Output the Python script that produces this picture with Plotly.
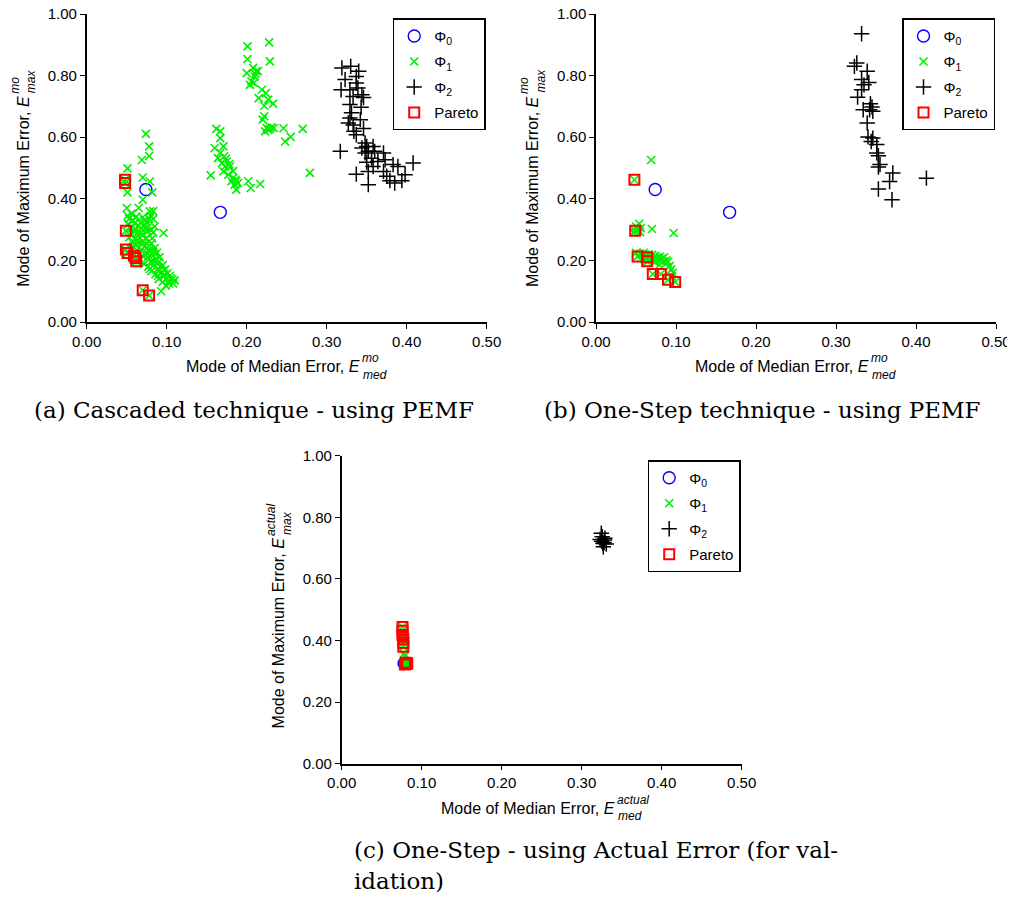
import plotly.graph_objects as go

# page is 1015x900 with an 8px body margin
PAGE_W, PAGE_H = 1015, 900
OFF = 8.0
W, H = PAGE_W - OFF, PAGE_H - 2 * OFF

# ---------------- data ----------------
# Panel (a) Cascaded technique - PEMF
a_phi0 = [(0.074, 0.430), (0.167, 0.356)]
a_phi1 = [
    (0.074, 0.611), (0.078, 0.570), (0.078, 0.539), (0.069, 0.526), (0.051, 0.499), (0.070, 0.469),
    (0.079, 0.456), (0.048, 0.462), (0.048, 0.451), (0.051, 0.421), (0.082, 0.421), (0.070, 0.397),
    (0.050, 0.370), (0.065, 0.370), (0.079, 0.359), (0.083, 0.360), (0.051, 0.345), (0.053, 0.335),
    (0.058, 0.330), (0.060, 0.320), (0.052, 0.318), (0.055, 0.305), (0.049, 0.296), (0.062, 0.300),
    (0.070, 0.340), (0.072, 0.330), (0.075, 0.325), (0.078, 0.335), (0.080, 0.345), (0.083, 0.335),
    (0.073, 0.315), (0.068, 0.305), (0.064, 0.290), (0.057, 0.285), (0.053, 0.275), (0.060, 0.270),
    (0.066, 0.275), (0.071, 0.285), (0.076, 0.295), (0.080, 0.300), (0.085, 0.310), (0.096, 0.289),
    (0.074, 0.270), (0.078, 0.262), (0.069, 0.258), (0.062, 0.250), (0.058, 0.245), (0.055, 0.238),
    (0.049, 0.235), (0.051, 0.224), (0.065, 0.240), (0.072, 0.245), (0.081, 0.255), (0.085, 0.240),
    (0.079, 0.232), (0.074, 0.225), (0.070, 0.215), (0.059, 0.215), (0.061, 0.208), (0.062, 0.197),
    (0.066, 0.200), (0.076, 0.210), (0.082, 0.218), (0.088, 0.225), (0.086, 0.205), (0.080, 0.195),
    (0.072, 0.188), (0.077, 0.180), (0.084, 0.185), (0.090, 0.195), (0.093, 0.180), (0.088, 0.170),
    (0.081, 0.165), (0.086, 0.155), (0.093, 0.160), (0.098, 0.170), (0.101, 0.158), (0.096, 0.148),
    (0.090, 0.140), (0.095, 0.130), (0.100, 0.140), (0.104, 0.150), (0.107, 0.138), (0.103, 0.125),
    (0.108, 0.125), (0.110, 0.135), (0.099, 0.118), (0.093, 0.100), (0.070, 0.103), (0.078, 0.086),
    (0.056, 0.352), (0.062, 0.342), (0.067, 0.322), (0.059, 0.298), (0.075, 0.305), (0.083, 0.290),
    (0.070, 0.262), (0.063, 0.265), (0.078, 0.248), (0.068, 0.232), (0.083, 0.228), (0.076, 0.222),
    (0.091, 0.210), (0.085, 0.196), (0.079, 0.172), (0.091, 0.168), (0.097, 0.155), (0.105, 0.142),
    (0.102, 0.132), (0.089, 0.150), (0.095, 0.185), (0.082, 0.272), (0.067, 0.288), (0.057, 0.258),
    (0.201, 0.895), (0.228, 0.908), (0.229, 0.846), (0.201, 0.854), (0.208, 0.825), (0.212, 0.814),
    (0.200, 0.808), (0.210, 0.797), (0.206, 0.781), (0.204, 0.770), (0.209, 0.776), (0.214, 0.815),
    (0.211, 0.805), (0.219, 0.754), (0.224, 0.743), (0.215, 0.727), (0.227, 0.722), (0.233, 0.709),
    (0.222, 0.702), (0.222, 0.668), (0.220, 0.657), (0.225, 0.630), (0.229, 0.627), (0.234, 0.630),
    (0.223, 0.619), (0.227, 0.624), (0.231, 0.632), (0.246, 0.629), (0.270, 0.627), (0.255, 0.601),
    (0.248, 0.586), (0.279, 0.484), (0.162, 0.627), (0.167, 0.619), (0.167, 0.597), (0.160, 0.565),
    (0.171, 0.570), (0.167, 0.549), (0.172, 0.538), (0.164, 0.532), (0.175, 0.521), (0.169, 0.516),
    (0.173, 0.505), (0.179, 0.505), (0.171, 0.489), (0.177, 0.478), (0.155, 0.476), (0.183, 0.468),
    (0.181, 0.457), (0.187, 0.457), (0.185, 0.446), (0.189, 0.451), (0.187, 0.430), (0.202, 0.457),
    (0.205, 0.435), (0.217, 0.448), (0.174, 0.530), (0.178, 0.512), (0.183, 0.490), (0.186, 0.462),
]
a_phi2 = [
    (0.319, 0.825), (0.330, 0.830), (0.340, 0.814), (0.337, 0.797), (0.323, 0.787), (0.337, 0.776),
    (0.318, 0.754), (0.329, 0.754), (0.339, 0.760), (0.344, 0.738), (0.333, 0.732), (0.346, 0.729),
    (0.329, 0.706), (0.343, 0.697), (0.331, 0.679), (0.329, 0.662), (0.342, 0.657), (0.327, 0.646),
    (0.333, 0.640), (0.346, 0.628), (0.334, 0.619), (0.337, 0.608), (0.317, 0.554), (0.348, 0.581),
    (0.350, 0.570), (0.344, 0.565), (0.358, 0.570), (0.352, 0.554), (0.360, 0.554), (0.348, 0.549),
    (0.371, 0.549), (0.356, 0.532), (0.350, 0.519), (0.364, 0.521), (0.373, 0.527), (0.408, 0.516),
    (0.358, 0.505), (0.383, 0.511), (0.389, 0.505), (0.352, 0.489), (0.371, 0.489), (0.337, 0.480),
    (0.375, 0.473), (0.398, 0.478), (0.394, 0.459), (0.379, 0.459), (0.352, 0.446), (0.385, 0.451),
]
a_pareto = [
    (0.048, 0.462), (0.048, 0.451), (0.049, 0.296), (0.049, 0.235), (0.051, 0.224),
    (0.059, 0.215), (0.061, 0.208), (0.062, 0.197), (0.070, 0.103), (0.078, 0.086),
]

# Panel (b) One-Step technique - PEMF
b_phi0 = [(0.074, 0.430), (0.167, 0.356)]
b_phi1 = [
    (0.069, 0.526), (0.048, 0.462), (0.054, 0.319), (0.050, 0.310), (0.056, 0.305), (0.052, 0.300),
    (0.049, 0.296), (0.047, 0.290), (0.055, 0.292), (0.070, 0.302), (0.097, 0.289), (0.050, 0.225),
    (0.052, 0.213), (0.055, 0.222), (0.058, 0.218), (0.060, 0.225), (0.062, 0.215), (0.064, 0.210),
    (0.064, 0.197), (0.066, 0.220), (0.068, 0.212), (0.070, 0.218), (0.072, 0.205), (0.074, 0.215),
    (0.076, 0.208), (0.078, 0.200), (0.080, 0.212), (0.082, 0.205), (0.084, 0.198), (0.085, 0.210),
    (0.088, 0.200), (0.087, 0.190), (0.090, 0.195), (0.092, 0.182), (0.094, 0.170), (0.096, 0.160),
    (0.071, 0.156), (0.081, 0.156), (0.090, 0.137), (0.099, 0.130), (0.095, 0.148), (0.073, 0.195),
    (0.079, 0.185), (0.066, 0.200), (0.060, 0.205),
]
b_phi2 = [
    (0.332, 0.936), (0.326, 0.841), (0.323, 0.830), (0.339, 0.814), (0.332, 0.787), (0.341, 0.778),
    (0.335, 0.770), (0.332, 0.754), (0.327, 0.730), (0.343, 0.709), (0.345, 0.698), (0.334, 0.689),
    (0.342, 0.689), (0.346, 0.684), (0.339, 0.646), (0.340, 0.601), (0.346, 0.597), (0.344, 0.586),
    (0.351, 0.576), (0.351, 0.549), (0.353, 0.540), (0.355, 0.511), (0.353, 0.503), (0.371, 0.484),
    (0.367, 0.456), (0.413, 0.467), (0.353, 0.432), (0.370, 0.397),
]
b_pareto = [
    (0.048, 0.462), (0.049, 0.296), (0.052, 0.213), (0.064, 0.210), (0.064, 0.197),
    (0.071, 0.156), (0.081, 0.156), (0.090, 0.137), (0.099, 0.130),
]

# Panel (c) One-Step - Actual Error
c_phi0 = [(0.078, 0.325), (0.079, 0.326)]
c_phi1 = [
    (0.076, 0.444), (0.076, 0.432), (0.076, 0.418), (0.077, 0.404), (0.077, 0.392), (0.077, 0.380),
    (0.078, 0.358), (0.079, 0.350), (0.080, 0.328), (0.081, 0.324), (0.079, 0.322), (0.082, 0.326),
    (0.083, 0.330), (0.081, 0.318),
]
c_phi2 = [
    (0.3245, 0.748), (0.3257, 0.737), (0.323, 0.728), (0.3286, 0.726), (0.3265, 0.715),
    (0.3307, 0.713), (0.327, 0.704), (0.325, 0.722), (0.329, 0.732), (0.328, 0.718),
]
c_pareto = [
    (0.076, 0.444), (0.076, 0.432), (0.076, 0.418), (0.077, 0.404), (0.077, 0.392), (0.077, 0.380),
    (0.080, 0.328), (0.081, 0.324), (0.079, 0.322), (0.082, 0.326),
]

series_names = ["\u03a6<sub>0</sub>", "\u03a6<sub>1</sub>", "\u03a6<sub>2</sub>", "Pareto"]
captions = ["(a) Cascaded technique - using PEMF", "(b) One-Step technique - using PEMF",
            "(c) One-Step - using Actual Error (for val-", "idation)"]

# ---------------- layout geometry (page pixels) ----------------
SANS = "Liberation Sans, Arial, sans-serif"
SERIF = "DejaVu Serif, serif"

panels = [
    dict(xa="x", ya="y", left=86.7, top=14.0, legend="legend",
         data=[a_phi0, a_phi1, a_phi2, a_pareto], sup="mo"),
    dict(xa="x2", ya="y2", left=596.0, top=14.0, legend="legend2",
         data=[b_phi0, b_phi1, b_phi2, b_pareto], sup="mo"),
    dict(xa="x3", ya="y3", left=341.7, top=455.7, legend="legend3",
         data=[c_phi0, c_phi1, c_phi2, c_pareto], sup="actual"),
]
PW, PH = 400.0, 308.0

styles = [
    dict(symbol="circle-open", size=12, color="#0000ff", width=1.4),
    dict(symbol="x-thin-open", size=8, color="#00ee00", width=1.6),
    dict(symbol="cross-thin-open", size=11, color="#000000", width=1.5),
    dict(symbol="square-open", size=10, color="#ff0000", width=2.0),
]

def px(x):
    return (x - OFF) / W

def py(y):
    return 1 - (y - OFF) / H

fig = go.Figure()
layout = dict(width=W, height=H, margin=dict(l=0, r=0, t=0, b=0, pad=0, autoexpand=False),
              paper_bgcolor="white", plot_bgcolor="white", showlegend=True)
annotations = []

for i, p in enumerate(panels):
    for k, (pts, st) in enumerate(zip(p["data"], styles)):
        fig.add_trace(go.Scatter(
            x=[q[0] for q in pts], y=[q[1] for q in pts], mode="markers",
            name=series_names[k], xaxis=p["xa"], yaxis=p["ya"], legend=p["legend"],
            legendgroup=f"g{i}{k}",
            marker=dict(symbol=st["symbol"], size=st["size"], color=st["color"],
                        line=dict(color=st["color"], width=st["width"])),
            cliponaxis=False,
        ))
    xname = "xaxis" if i == 0 else f"xaxis{i+1}"
    yname = "yaxis" if i == 0 else f"yaxis{i+1}"
    L, T = p["left"], p["top"]
    common = dict(showgrid=False, zeroline=False, showline=True, linecolor="black", linewidth=1.5,
                  ticks="outside", ticklen=5, tickwidth=1.3, tickcolor="black", automargin=False,
                  ticklabeloverflow="allow",
                  tickfont=dict(family=SANS, size=15, color="black"), tickformat=".2f")
    layout[xname] = dict(common, domain=[px(L), px(L + PW)], range=[0, 0.5], dtick=0.1, tick0=0,
                         anchor=p["ya"])
    layout[yname] = dict(common, domain=[py(T + PH), py(T)], range=[0, 1.0], dtick=0.2, tick0=0,
                         anchor=p["xa"])
    layout[p["legend"]] = dict(
        x=px(L + PW - 94.0), y=py(T + 4.3), xanchor="left", yanchor="top",
        bordercolor="black", borderwidth=1.5, bgcolor="white",
        font=dict(family=SANS, size=15, color="black"), tracegroupgap=3,
        itemwidth=30,
    )
    # x-axis title: main + stacked sup/sub
    bx = L + 275.0
    by = T + PH + 44.7
    annotations.append(dict(text="Mode of Median Error, <i>E</i>", x=px(bx), y=py(by),
                            xref="paper", yref="paper", xanchor="right", yanchor="middle",
                            showarrow=False, font=dict(family=SANS, size=16, color="black")))
    annotations.append(dict(text=f"<i>{p['sup']}</i>", x=px(bx - 2), y=py(by - 8.5),
                            xref="paper", yref="paper", xanchor="left", yanchor="middle",
                            showarrow=False, font=dict(family=SANS, size=12, color="black")))
    annotations.append(dict(text="<i>med</i>", x=px(bx - 1), y=py(by + 8),
                            xref="paper", yref="paper", xanchor="left", yanchor="middle",
                            showarrow=False, font=dict(family=SANS, size=12, color="black")))
    # y-axis title (rotated)
    yx = L - 63.5
    ytop = T + 80.0
    annotations.append(dict(text="Mode of Maximum Error, <i>E</i>", x=px(yx), y=py(ytop),
                            xref="paper", yref="paper", xanchor="center", yanchor="top",
                            textangle=-90, showarrow=False,
                            font=dict(family=SANS, size=16, color="black")))
    annotations.append(dict(text=f"<i>{p['sup']}</i>", x=px(yx - 8), y=py(ytop + 2),
                            xref="paper", yref="paper", xanchor="center", yanchor="bottom",
                            textangle=-90, showarrow=False,
                            font=dict(family=SANS, size=12, color="black")))
    annotations.append(dict(text="<i>max</i>", x=px(yx + 8), y=py(ytop + 1),
                            xref="paper", yref="paper", xanchor="center", yanchor="bottom",
                            textangle=-90, showarrow=False,
                            font=dict(family=SANS, size=12, color="black")))

# captions
cap_pos = [(32, 410), (542, 410), (352, 850), (352, 881)]
for txt, (cx, cy) in zip(captions, cap_pos):
    annotations.append(dict(text=txt, x=px(cx), y=py(cy), xref="paper", yref="paper",
                            xanchor="left", yanchor="middle", showarrow=False,
                            font=dict(family=SERIF, size=23, color="black")))

layout["annotations"] = annotations
fig.update_layout(**layout)
fig.write_html("out.html")
